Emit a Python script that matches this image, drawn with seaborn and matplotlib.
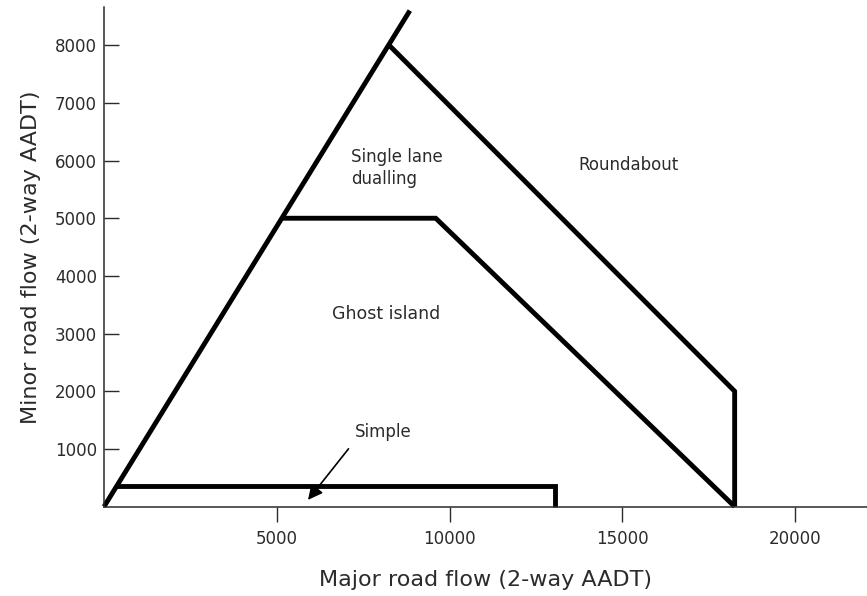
import numpy as np
import pandas as pd
import seaborn as sns
import matplotlib.pyplot as plt

# boundaries between junction types
edge_x = [0, 8850]
edge_y = [0, 8600]

roundabout_x = [8250, 18250, 18250]
roundabout_y = [8000, 2000, 0]

ghost_x = [5150, 9600, 18250]
ghost_y = [5000, 5000, 0]

simple_x = [360, 13050, 13050]
simple_y = [350, 350, 0]

x_ticks = [5000, 10000, 15000, 20000]
y_ticks = [1000, 2000, 3000, 4000, 5000, 6000, 7000, 8000]

sns.set_style("ticks")
plt.rcParams['font.family'] = ['DejaVu Sans']
txt = '#2b2b2b'

fig = plt.figure(figsize=(8.67, 5.96), dpi=100)
ax = fig.add_axes([0.12, 0.15, 0.88, 0.838])

for xs, ys in [(edge_x, edge_y), (roundabout_x, roundabout_y),
               (ghost_x, ghost_y), (simple_x, simple_y)]:
    df = pd.DataFrame({'x': xs, 'y': ys})
    sns.lineplot(data=df, x='x', y='y', sort=False, estimator=None,
                 errorbar=None, color='black', linewidth=3.5, ax=ax,
                 solid_joinstyle='miter', solid_capstyle='butt', clip_on=False)

ax.set_xlim(0, 22080)
ax.set_ylim(0, 8660)
ax.set_xticks(x_ticks)
ax.set_yticks(y_ticks)
ax.tick_params(axis='x', direction='out', length=11, width=1, pad=6,
               labelsize=12, labelcolor=txt, color=txt)
ax.tick_params(axis='y', direction='in', length=11, width=1, pad=5,
               labelsize=12, labelcolor=txt, color=txt)
for s in ['top', 'right']:
    ax.spines[s].set_visible(False)
for s in ['left', 'bottom']:
    ax.spines[s].set_linewidth(1.1)
    ax.spines[s].set_color(txt)

ax.set_xlabel('Major road flow (2-way AADT)', fontsize=16, color=txt, labelpad=16)
ax.set_ylabel('Minor road flow (2-way AADT)', fontsize=16, color=txt, labelpad=10)

ax.text(7150, 5870, 'Single lane\ndualling', fontsize=12, color=txt,
        ha='left', va='center', linespacing=1.3)
ax.text(15180, 5920, 'Roundabout', fontsize=12, color=txt, ha='center', va='center')
ax.text(8160, 3335, 'Ghost island', fontsize=12.5, color=txt, ha='center', va='center')
ax.annotate('Simple', xy=(5903, 116), xytext=(7250, 1290), fontsize=12,
            color=txt, ha='left', va='center',
            arrowprops=dict(arrowstyle='-|>', color='black', lw=1.2,
                            mutation_scale=22, shrinkA=4, shrinkB=0,
                            relpos=(0.0, 0.0)))

fig.savefig('out.png', dpi=100)
